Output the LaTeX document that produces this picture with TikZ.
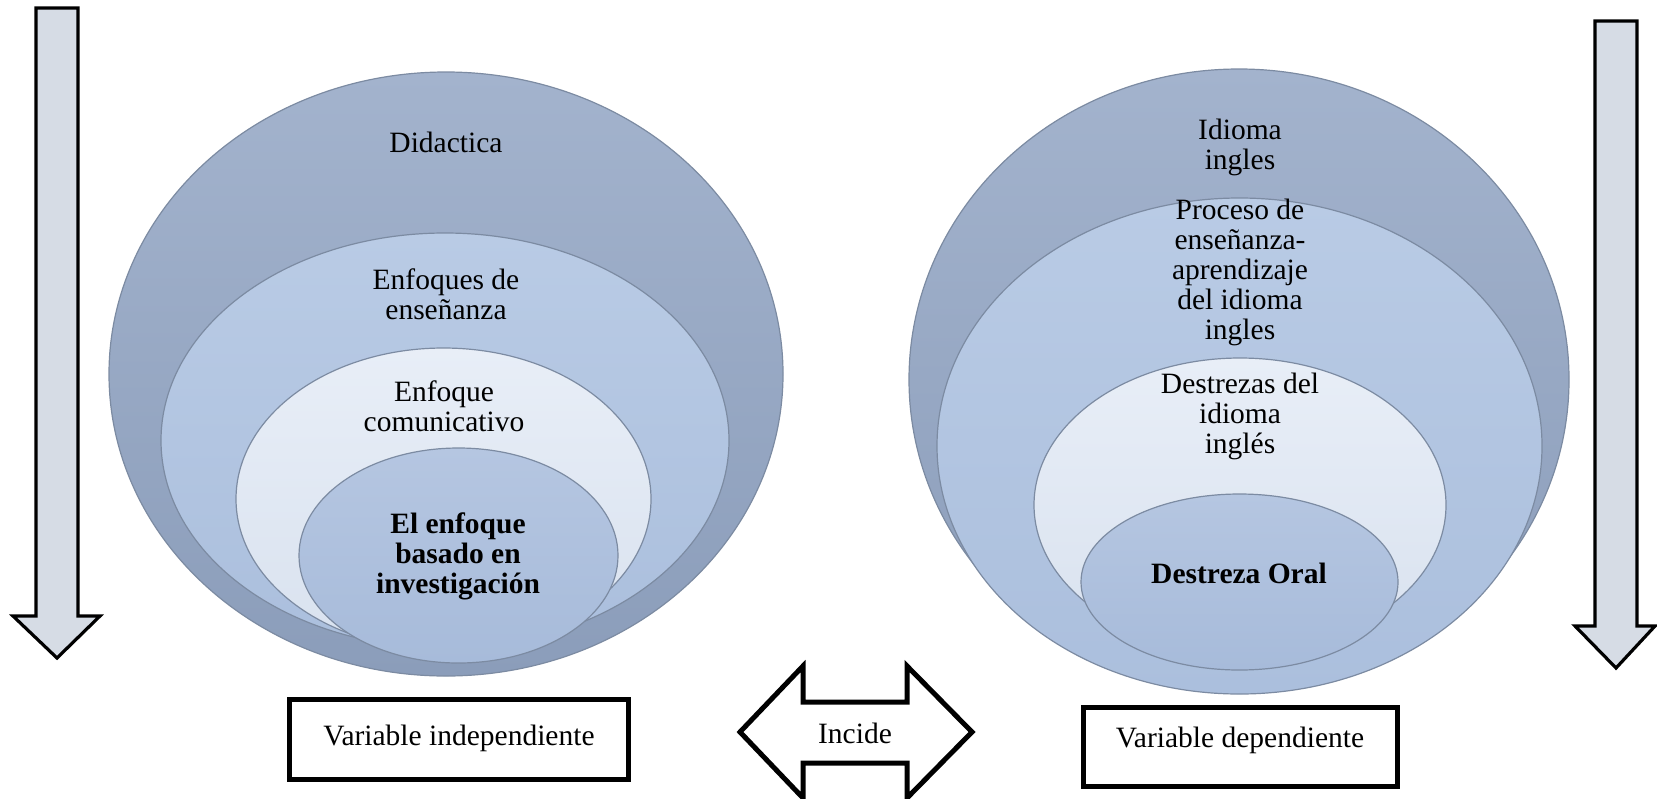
\documentclass[tikz,border=0pt]{standalone}
\usepackage{fontspec}
\setmainfont{Liberation Serif}
\usepackage{tikz}
\usetikzlibrary{positioning}
\definecolor{ringA}{HTML}{A3B3CD}
\definecolor{ringAd}{HTML}{8B9DBA}
\definecolor{ringB}{HTML}{B9CBE5}
\definecolor{ringBd}{HTML}{ABBFDD}
\definecolor{ringC}{HTML}{E8EEF7}
\definecolor{ringCd}{HTML}{D9E2EF}
\definecolor{ringD}{HTML}{B5C6E1}
\definecolor{ringDd}{HTML}{A7BBDA}
\definecolor{rim}{HTML}{7C8BA2}
\definecolor{pale}{HTML}{D6DCE5}
\tikzset{
  ring/.style={draw=rim, line width=0.6pt},
  lbl/.style={align=center, anchor=base, inner sep=0pt,
    font=\fontsize{14.75pt}{15pt}\selectfont},
  varbox/.style={draw, line width=2.5pt, inner sep=0pt, text height=10pt,
    text depth=10pt, font=\fontsize{14.75pt}{15pt}\selectfont},
  downarrow/.style={draw, fill=pale, line width=1.6pt, line join=miter}
}
\begin{document}
\begin{tikzpicture}[x=0.5pt, y=-0.5pt]
  \useasboundingbox (0,0) rectangle (1657,798);
  \draw [downarrow] (36,8) -- (78,8) -- (78,616) -- (100,616) -- (57,658)
    -- (13,616) -- (36,616) -- cycle;
  \draw [downarrow] (1595,21) -- (1637,21) -- (1637,626) -- (1655,626) --
    (1616,668) -- (1575,626) -- (1595,626) -- cycle;
  \shade [ring, top color=ringA, bottom color=ringAd] (446,374) ellipse
    [x radius=337, y radius=302];
  \shade [ring, top color=ringB, bottom color=ringBd] (445,440.5) ellipse
    [x radius=284, y radius=207.5];
  \shade [ring, top color=ringC, bottom color=ringCd] (443.5,499) ellipse
    [x radius=207.5, y radius=151];
  \shade [ring, top color=ringD, bottom color=ringDd] (458.5,555.5) ellipse
    [x radius=159.5, y radius=107.5];
  \shade [ring, top color=ringA, bottom color=ringAd] (1239,379.5) ellipse
    [x radius=330, y radius=310.5];
  \shade [ring, top color=ringB, bottom color=ringBd] (1239.5,446) ellipse
    [x radius=302.5, y radius=248];
  \shade [ring, top color=ringC, bottom color=ringCd] (1240,505) ellipse
    [x radius=206, y radius=147];
  \shade [ring, top color=ringD, bottom color=ringDd] (1239.5,582) ellipse
    [x radius=158.5, y radius=88];
  \node [lbl] (didactica) at (446,152) {Didactica};
  \node [lbl] (enfoques) at (446,319) {Enfoques de\\enseñanza};
  \node [lbl] (comunicativo) at (444,431) {Enfoque\\comunicativo};
  \node [lbl, font=\fontsize{14.75pt}{15pt}\selectfont\bfseries]
    (investigacion) at (458,593) {El enfoque\\basado en\\investigación};
  \node [lbl] (idioma) at (1240,169) {Idioma\\ingles};
  \node [lbl] (proceso) at (1240,339)
    {Proceso de\\enseñanza-\\aprendizaje\\del idioma\\ingles};
  \node [lbl] (destrezas) at (1240,453) {Destrezas del\\idioma\\inglés};
  \node [lbl, font=\fontsize{14.75pt}{15pt}\selectfont\bfseries] (oral)
    at (1239,583) {Destreza Oral};
  \node [varbox, minimum width=169.5pt, minimum height=40pt, text height=13pt,
    text depth=7pt] (indep) at (459,739.5) {Variable independiente};
  \node [varbox, minimum width=157pt, minimum height=39.5pt] (dep)
    at (1240,747) {Variable dependiente};
  \draw [line width=2.5pt, line join=miter, fill=white] (740,732) --
    (803,666) -- (803,702) -- (907,702) -- (907,666) -- (972,732) --
    (907,798) -- (907,763) -- (803,763) -- (803,798) -- cycle;
  \node [lbl] (incide) at (855,743) {Incide};
\end{tikzpicture}
\end{document}
